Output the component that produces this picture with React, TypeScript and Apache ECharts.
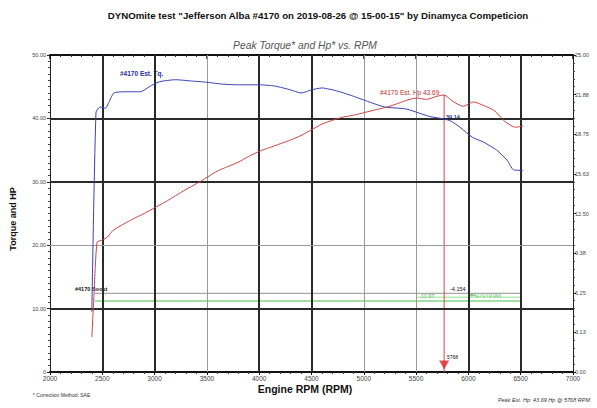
import React, { useEffect, useRef } from "react";
import * as echarts from "echarts";

const torqueRpm = [2400, 2440, 2480, 2530, 2570, 2610, 2700, 2860, 2970, 3050, 3200, 3350, 3500, 3650, 3800, 4000, 4150, 4300, 4400, 4500, 4600, 4750, 4900, 5050, 5200, 5400, 5500, 5630, 5768, 5830, 5920, 6040, 6140, 6270, 6370, 6430, 6520];
const torqueValues = [9.5, 41.0, 41.8, 41.6, 42.8, 44.0, 44.2, 44.2, 45.2, 45.8, 46.1, 45.9, 45.7, 45.4, 45.3, 45.3, 45.1, 44.5, 44.0, 44.5, 44.8, 44.3, 43.5, 42.6, 41.8, 41.5, 41.0, 40.3, 39.9, 39.6, 38.6, 37.0, 36.3, 35.0, 33.4, 31.9, 31.8];

const hpRpm = [2400, 2420, 2450, 2500, 2550, 2600, 2700, 2800, 2900, 3000, 3100, 3200, 3300, 3400, 3500, 3600, 3700, 3800, 3900, 4000, 4100, 4200, 4300, 4400, 4500, 4600, 4700, 4800, 4900, 5000, 5100, 5200, 5300, 5400, 5500, 5600, 5700, 5768, 5850, 5950, 6050, 6150, 6250, 6350, 6450, 6520];
const hpValues = [5.5, 12.0, 20.5, 20.8, 21.3, 22.3, 23.3, 24.2, 25.0, 25.9, 26.8, 27.8, 28.8, 29.7, 30.7, 31.7, 32.4, 33.1, 34.0, 34.8, 35.4, 36.0, 36.6, 37.3, 38.2, 39.1, 39.7, 40.2, 40.5, 40.9, 41.3, 41.7, 42.2, 42.8, 43.2, 43.0, 43.5, 43.69, 42.7, 41.9, 42.6, 42.0, 41.2, 39.5, 38.6, 38.8];

const boostRpm = [2430, 6510];
const boostGray = [12.4, 12.4];
const boostGreen = [11.2, 11.2];
const boostHiRpm = [5500, 6510];
const boostHi = [11.8, 11.8];

const peakRpm = 5768;
const peakHp = 43.69;
const peakMarkerValue = 1.1;

const gridRpmMajor = [2500, 3000, 4000, 4500, 6000, 6500];
const gridRpmMinor = [3500, 5000, 5500];
const gridValMajor = [10, 30, 40];
const gridValMinor = [20];

const titleText = 'DYNOmite test "Jefferson Alba #4170 on 2019-08-26 @ 15-00-15" by Dinamyca Competicion';
const subtitleText = "Peak Torque* and Hp* vs. RPM";

const FONT = "Liberation Sans, Arial, sans-serif";

const zip = (a: number[], b: number[]) => a.map((x, i) => [x, b[i]]);

export default function App() {
  const ref = useRef<HTMLDivElement>(null);
  useEffect(() => {
    document.body.style.margin = "0";
    const chart = echarts.init(ref.current!, null, { renderer: "svg" });
    const txt = (x: number, y: number, text: string, opts: any = {}) => ({
      type: "text",
      x,
      y,
      rotation: opts.rotation || 0,
      silent: true,
      style: {
        text,
        fill: opts.fill || "#111",
        font: `${opts.style || "normal"} ${opts.weight || "normal"} ${opts.size || 6}px ${FONT}`,
        textAlign: opts.align || "left",
        textVerticalAlign: "middle",
      },
    });
    chart.setOption({
      animation: false,
      backgroundColor: "#fff",
      grid: { left: 50, right: 24, top: 55, bottom: 36 },
      xAxis: [
        {
          type: "value",
          min: 2000,
          max: 7000,
          interval: 500,
          position: "bottom",
          axisLine: { show: true, onZero: false, lineStyle: { color: "#111", width: 2 } },
          axisTick: { show: true, length: 3, lineStyle: { color: "#111" } },
          minorTick: { show: true, splitNumber: 5, length: 2, lineStyle: { color: "#333" } },
          axisLabel: { fontSize: 6.5, color: "#444", margin: 3, fontFamily: FONT, formatter: (v: number) => String(v) },
          splitLine: { show: false },
        },
        {
          type: "value",
          min: 2000,
          max: 7000,
          interval: 500,
          position: "top",
          axisLine: { show: true, onZero: false, lineStyle: { color: "#111", width: 2 } },
          axisTick: { show: true, inside: true, length: 4, lineStyle: { color: "#111", width: 1.5 } },
          minorTick: { show: true, splitNumber: 5, length: 2, lineStyle: { color: "#333" } },
          axisLabel: { show: false },
          splitLine: { show: false },
        },
      ],
      yAxis: [
        {
          type: "value",
          min: 0,
          max: 50,
          interval: 10,
          position: "left",
          axisLine: { show: true, onZero: false, lineStyle: { color: "#222", width: 1 } },
          axisTick: { show: true, length: 3, lineStyle: { color: "#222" } },
          minorTick: { show: true, splitNumber: 10, length: 2, lineStyle: { color: "#444" } },
          axisLabel: {
            fontSize: 5.5,
            color: "#444",
            margin: 4,
            fontFamily: FONT,
            formatter: (v: number) => (v === 0 ? "0" : v.toFixed(2)),
          },
          splitLine: { show: false },
        },
        {
          type: "value",
          min: 0,
          max: 25,
          interval: 3.125,
          position: "right",
          axisLine: { show: true, onZero: false, lineStyle: { color: "#222", width: 1 } },
          axisTick: { show: true, length: 3, lineStyle: { color: "#222" } },
          minorTick: { show: true, splitNumber: 5, length: 2, lineStyle: { color: "#444" } },
          axisLabel: {
            fontSize: 5.5,
            color: "#444",
            margin: 2,
            fontFamily: FONT,
            formatter: (v: number) => v.toFixed(2),
          },
          splitLine: { show: false },
        },
      ],
      series: [
        {
          type: "line",
          data: [],
          silent: true,
          z: 1,
          markLine: {
            silent: true,
            symbol: "none",
            label: { show: false },
            animation: false,
            data: [
              ...gridRpmMajor.map((v) => ({ xAxis: v, lineStyle: { color: "#2a2a2a", width: 2, type: "solid" } })),
              ...gridRpmMinor.map((v) => ({ xAxis: v, lineStyle: { color: "#999", width: 1, type: "solid" } })),
              ...gridValMajor.map((v) => ({ yAxis: v, lineStyle: { color: "#2a2a2a", width: 2, type: "solid" } })),
              ...gridValMinor.map((v) => ({ yAxis: v, lineStyle: { color: "#999", width: 1, type: "solid" } })),
            ],
          },
        },
        {
          name: "boostGray",
          type: "line",
          data: zip(boostRpm, boostGray),
          symbol: "none",
          lineStyle: { color: "#a8a8a8", width: 1.2 },
          z: 3,
        },
        {
          name: "boostGreen",
          type: "line",
          data: zip(boostRpm, boostGreen),
          symbol: "none",
          lineStyle: { color: "#4cc04c", width: 1.2 },
          z: 3,
        },
        {
          name: "boostHi",
          type: "line",
          data: zip(boostHiRpm, boostHi),
          symbol: "none",
          lineStyle: { color: "#8ee08e", width: 1 },
          z: 3,
        },
        {
          name: "peakLine",
          type: "line",
          data: [[peakRpm, 0], [peakRpm, peakHp]],
          symbol: "none",
          lineStyle: { color: "#d04848", width: 1 },
          z: 4,
        },
        {
          name: "peakMarker",
          type: "scatter",
          data: [[peakRpm, peakMarkerValue]],
          symbol: "triangle",
          symbolRotate: 180,
          symbolSize: [10, 9],
          itemStyle: { color: "#e0202a" },
          z: 6,
        },
        {
          name: "#4170 Est. Tq.",
          type: "line",
          data: zip(torqueRpm, torqueValues),
          symbol: "none",
          smooth: 0.2,
          lineStyle: { color: "#3a40b0", width: 1 },
          z: 5,
        },
        {
          name: "#4170 Est. Hp",
          type: "line",
          data: zip(hpRpm, hpValues),
          symbol: "none",
          smooth: 0.2,
          lineStyle: { color: "#cc4444", width: 1 },
          z: 5,
        },
      ],
      graphic: [
        txt(318, 15, titleText, { weight: "bold", size: 9.7, align: "center" }),
        txt(305, 45, subtitleText, { style: "italic", size: 10.3, align: "center", fill: "#555" }),
        txt(13, 219, "Torque and HP", { weight: "bold", size: 9, align: "center", rotation: Math.PI / 2 }),
        txt(305, 389, "Engine RPM (RPM)", { weight: "bold", size: 10.5, align: "center" }),
        txt(33, 395, "* Correction Method: SAE", { size: 5, fill: "#333" }),
        txt(590, 400, "Peak Est. Hp: 43.69 Hp @ 5768 RPM", { style: "italic", size: 5.5, align: "right", fill: "#333" }),
        txt(120, 73, "#4170 Est. Tq.", { weight: "bold", size: 6.5, fill: "#2a2f9e" }),
        txt(380, 92, "#4170 Est. Hp 43.69", { size: 6.5, fill: "#c42a2a" }),
        txt(446, 117, "39.14", { weight: "bold", size: 5.5, fill: "#2a2f9e" }),
        txt(75, 289, "#4170 Boost", { weight: "bold", size: 5.5, fill: "#111" }),
        txt(450, 289, "-4.154", { size: 5.5, fill: "#111" }),
        txt(421, 296, "11.97", { size: 5.5, fill: "#3cae3c" }),
        txt(470, 295, "#4170 (0.00)", { size: 5.5, fill: "#3cae3c" }),
        txt(447, 357, "5768", { size: 5, fill: "#111" }),
      ],
    });
    return () => chart.dispose();
  }, []);
  return <div ref={ref} style={{ position: "absolute", left: 0, top: 0, width: 597, height: 408 }} />;
}
